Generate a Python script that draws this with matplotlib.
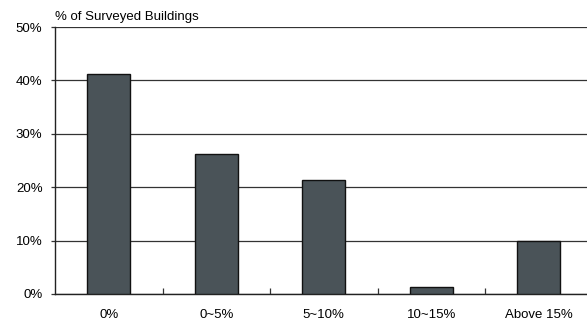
import matplotlib
matplotlib.use('Agg')
import matplotlib.pyplot as plt
from matplotlib.ticker import FuncFormatter

plt.rcParams['font.family'] = ['Liberation Sans', 'DejaVu Sans']

categories = ['0%', '0~5%', '5~10%', '10~15%', 'Above 15%']
shares = [41.2, 26.3, 21.3, 1.3, 10.0]

W, H = 587, 320
fig = plt.figure(figsize=(W / 100, H / 100), dpi=100)
# axes runs slightly past the right edge like the cropped original
ax = fig.add_axes([55 / W, 26 / H, 537.5 / W, 267 / H])

ax.bar(range(len(categories)), shares, width=0.4, color='#4a5358',
       edgecolor='#111111', linewidth=1.0, zorder=3)

ax.set_xlim(-0.5, len(categories) - 0.5)
ax.set_ylim(0, 50)
ax.set_yticks(range(0, 51, 10))
ax.yaxis.set_major_formatter(FuncFormatter(lambda v, p: f'{v:.0f}%'))
ax.grid(axis='y', color='#333333', linewidth=0.9, zorder=0)

ax.set_xticks(range(len(categories)))
ax.set_xticklabels(categories)
ax.set_xticks([i + 0.5 for i in range(len(categories) - 1)], minor=True)
ax.tick_params(axis='x', which='major', length=0, pad=11, labelsize=9.5)
ax.tick_params(axis='x', which='minor', direction='in', length=4, width=0.9, color='#333333')
ax.tick_params(axis='y', length=3, width=0.9, pad=6, labelsize=9.5, color='#333333')

for s in ['top', 'right']:
    ax.spines[s].set_visible(False)
ax.spines['left'].set_color('#222222')
ax.spines['bottom'].set_color('#222222')
ax.spines['left'].set_linewidth(1.0)
ax.spines['bottom'].set_linewidth(1.0)

fig.text(55 / W, 1 - 20 / H, '% of Surveyed Buildings', fontsize=9.5, ha='left', va='baseline')

fig.savefig('out.png', dpi=100)
